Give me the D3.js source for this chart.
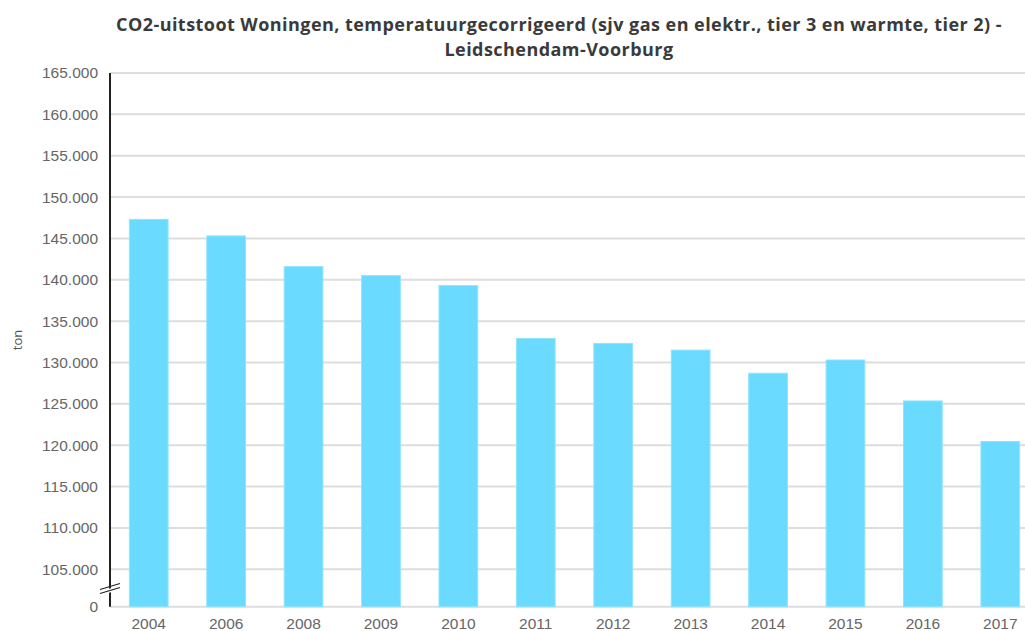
<!DOCTYPE html>
<html>
<head>
<meta charset="utf-8">
<script src="https://cdn.jsdelivr.net/npm/d3@7"></script>
<style>
  body { margin: 0; background: #fff; }
  svg { font-family: "Open Sans", sans-serif; }
  .title { font-family: "Open Sans", sans-serif; font-weight: bold; fill: #3a3a3a; }
  .tick text { fill: #666; font-size: 15.5px; }
</style>
</head>
<body>
<div class="app"></div>
<script>
'use strict'

// categorieen en waarden
var years = ["2004", "2006", "2008", "2009", "2010", "2011", "2012", "2013", "2014", "2015", "2016", "2017"];
var values = [147300, 145300, 141600, 140500, 139300, 132900, 132300, 131500, 128700, 130300, 125350, 120450];
var yTicks = [0, 105000, 110000, 115000, 120000, 125000, 130000, 135000, 140000, 145000, 150000, 155000, 160000, 165000];
var titleLines = ["CO2-uitstoot Woningen, temperatuurgecorrigeerd (sjv gas en elektr., tier 3 en warmte, tier 2) -", "Leidschendam-Voorburg"];

var width = 1025, height = 631;
var plotLeft = 110, plotRight = 1039, plotTop = 73, plotBottom = 606.7;

var nl = d3.formatLocale({ decimal: ",", thousands: ".", grouping: [3], currency: ["€", ""] });
var fmt = nl.format(",");

var svg = d3.select(".app").append("svg")
  .attr("width", width)
  .attr("height", height);

// Titel
svg.selectAll(".title")
  .data(titleLines)
  .enter().append("text")
  .attr("class", "title")
  .attr("x", 559)
  .attr("y", function(d, i) { return 31 + i * 25; })
  .attr("text-anchor", "middle")
  .attr("font-size", 18)
  .attr("letter-spacing", 0.45)
  .text(function(d) { return d; });

// schalen, met onderbreking tussen 0 en 105.000
var x = d3.scaleBand().domain(years).range([plotLeft, plotRight]).paddingInner(0.5).paddingOuter(0.25);
var y = d3.scaleLinear().domain([0, 105000, 165000]).range([plotBottom, 569.3, plotTop]);

// rasterlijnen
svg.append("g")
  .selectAll("line")
  .data(yTicks)
  .enter().append("line")
  .attr("x1", plotLeft)
  .attr("x2", width)
  .attr("y1", function(d) { return y(d); })
  .attr("y2", function(d) { return y(d); })
  .attr("stroke", "#ddd")
  .attr("stroke-width", 2);

// staven
svg.append("g")
  .selectAll("rect")
  .data(values)
  .enter().append("rect")
  .attr("x", function(d, i) { return x(years[i]); })
  .attr("width", x.bandwidth())
  .attr("y", function(d) { return y(d); })
  .attr("height", function(d) { return plotBottom - y(d); })
  .attr("fill", "#6adaff")
  .attr("stroke", "#8ee4ff")
  .attr("stroke-width", 1);

// Y-as
var yAxis = d3.axisLeft(y).tickValues(yTicks).tickSize(0).tickPadding(12).tickFormat(fmt);
svg.append("g")
  .attr("class", "y-axis")
  .attr("transform", "translate(" + plotLeft + ",0)")
  .call(yAxis)
  .call(function(g) { g.select(".domain").remove(); });

svg.append("line")
  .attr("x1", plotLeft).attr("x2", plotLeft)
  .attr("y1", plotTop).attr("y2", plotBottom)
  .attr("stroke", "#222")
  .attr("stroke-width", 2);

// onderbrekingsteken
var brk = svg.append("g").attr("transform", "translate(" + plotLeft + ",588.5)");
brk.append("polygon")
  .attr("points", "-10,3 10,-3 10,1 -10,7")
  .attr("fill", "#fff");
brk.append("line").attr("x1", -10).attr("y1", 1).attr("x2", 10).attr("y2", -5).attr("stroke", "#222").attr("stroke-width", 1.3);
brk.append("line").attr("x1", -10).attr("y1", 5).attr("x2", 10).attr("y2", -1).attr("stroke", "#222").attr("stroke-width", 1.3);

// X-as
var xAxis = d3.axisBottom(x).tickSize(0).tickPadding(11);
svg.append("g")
  .attr("class", "x-axis")
  .attr("transform", "translate(0," + plotBottom + ")")
  .call(xAxis)
  .call(function(g) { g.select(".domain").remove(); });

// as-label
svg.append("text")
  .attr("transform", "translate(22,340) rotate(-90)")
  .attr("text-anchor", "middle")
  .attr("fill", "#555")
  .attr("font-size", 13)
  .text("ton");
</script>
</body>
</html>
